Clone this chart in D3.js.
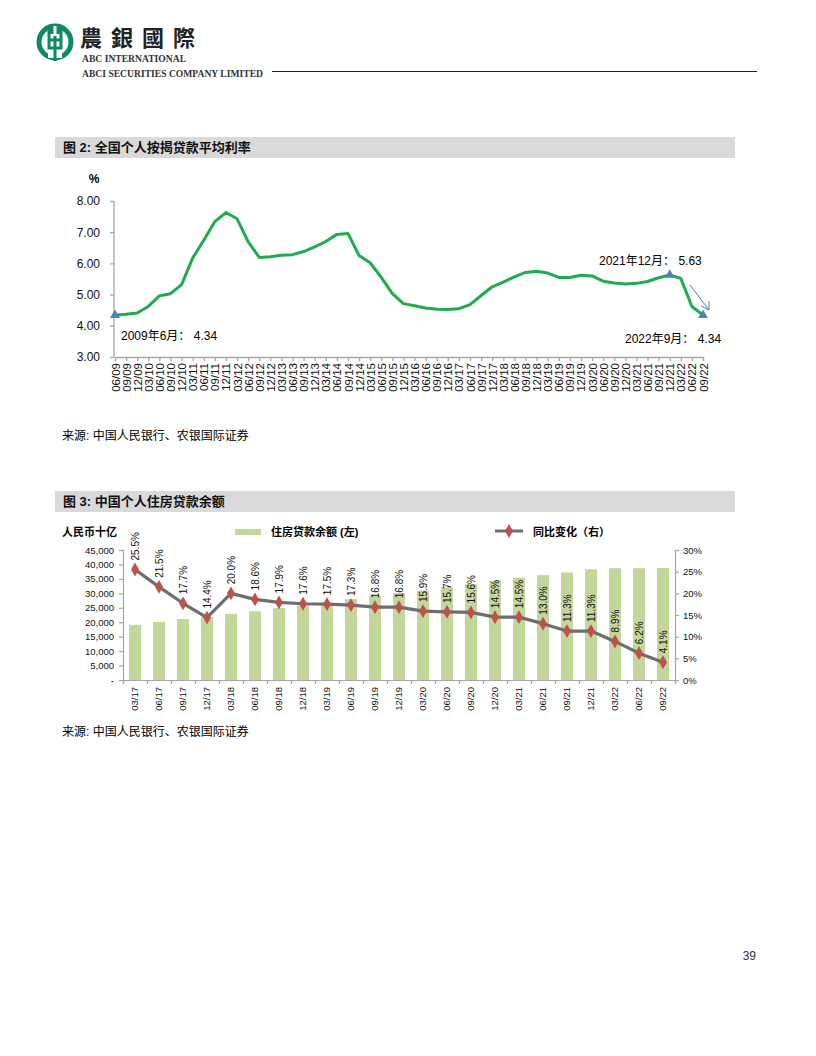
<!DOCTYPE html>
<html><head><meta charset="utf-8">
<script src="https://cdn.jsdelivr.net/npm/d3@7"></script>
<style>
body{margin:0;background:#fff;}
svg{display:block;}
text{font-family:"Liberation Sans",Arial,"Noto Sans CJK SC",sans-serif;}
.cjk{font-family:"Liberation Sans","Noto Sans CJK SC",sans-serif;}
</style></head><body>
<script>
// ---- Chart 1 data: average mortgage rate (%) ----
const rateCategories = ["06/09","09/09","12/09",
 "03/10","06/10","09/10","12/10","03/11","06/11","09/11","12/11",
 "03/12","06/12","09/12","12/12","03/13","06/13","09/13","12/13",
 "03/14","06/14","09/14","12/14","03/15","06/15","09/15","12/15",
 "03/16","06/16","09/16","12/16","03/17","06/17","09/17","12/17",
 "03/18","06/18","09/18","12/18","03/19","06/19","09/19","12/19",
 "03/20","06/20","09/20","12/20","03/21","06/21","09/21","12/21",
 "03/22","06/22","09/22"];
const rateValues = [4.34,4.37,4.41,4.62,4.96,5.03,5.32,6.17,6.74,7.34,7.63,7.43,
 6.70,6.19,6.21,6.26,6.28,6.38,6.53,6.70,6.93,6.96,6.25,6.02,5.55,5.03,4.71,
 4.64,4.57,4.53,4.52,4.55,4.68,4.97,5.25,5.40,5.57,5.71,5.75,5.69,5.55,5.55,
 5.62,5.60,5.43,5.37,5.34,5.36,5.42,5.54,5.63,5.52,4.62,4.34];
const rateTicks = [3,4,5,6,7,8];
const rateAnnotations = [
 {i:0, text:"2009年6月： 4.34"},
 {i:50, text:"2021年12月： 5.63"},
 {i:53, text:"2022年9月： 4.34"}];

// ---- Chart 2 data: housing loan balance ----
const loanCategories = ["03/17","06/17","09/17","12/17","03/18","06/18","09/18","12/18",
 "03/19","06/19","09/19","12/19","03/20","06/20","09/20","12/20",
 "03/21","06/21","09/21","12/21","03/22","06/22","09/22"];
const loanBalance = [19100,20100,21100,21900,22900,23800,24900,25800,26800,28000,29100,30100,
 30900,32100,33200,34400,35400,36300,37200,38300,38700,38700,38800];
const loanYoY = [25.5,21.5,17.7,14.4,20.0,18.6,17.9,17.6,17.5,17.3,16.8,16.8,
 15.9,15.7,15.6,14.5,14.5,13.0,11.3,11.3,8.9,6.2,4.1];
const leftTicks = [0,5000,10000,15000,20000,25000,30000,35000,40000,45000];
const rightTicks = [0,5,10,15,20,25,30];

const svg = d3.select("body").append("svg").attr("width",816).attr("height",1056);

// ---- Header ----
const logo = svg.append("g").attr("transform","translate(55,42)");
logo.append("circle").attr("r",16).attr("fill","none").attr("stroke","#0f8a5f").attr("stroke-width",5);
logo.append("rect").attr("x",-7).attr("y",-16).attr("width",14).attr("height",32).attr("fill","#fff");
logo.append("path").attr("d","M-6,-16 V6 H6 V-16 M-3,-16 V-8 M3,-16 V-8 M-6,-2 H6 M0,-6 V6 M0,6 V19")
  .attr("fill","none").attr("stroke","#0f8a5f").attr("stroke-width",3);
svg.append("text").attr("x",80).attr("y",46).attr("font-size",22).attr("font-weight","bold")
  .attr("letter-spacing",9).attr("fill","#222").style("font-family","'Noto Sans CJK TC','Noto Sans CJK SC'").text("農銀國際");
svg.append("text").attr("x",82).attr("y",62).attr("font-size",9.6).attr("font-weight","bold")
  .attr("fill","#333").style("font-family","'Liberation Serif',serif").text("ABC INTERNATIONAL");
svg.append("text").attr("x",82).attr("y",77).attr("font-size",9.6).attr("font-weight","bold")
  .attr("fill","#333").style("font-family","'Liberation Serif',serif").text("ABCI SECURITIES COMPANY LIMITED");
svg.append("line").attr("x1",272).attr("x2",757).attr("y1",71.5).attr("y2",71.5).attr("stroke","#222").attr("stroke-width",1);

function titleBar(y, txt){
  svg.append("rect").attr("x",55).attr("y",y).attr("width",680).attr("height",21).attr("fill","#d9d9d9");
  svg.append("text").attr("class","cjk").attr("x",63).attr("y",y+15).attr("font-size",13)
    .attr("font-weight","bold").attr("fill","#111").text(txt);
}
titleBar(137,"图 2: 全国个人按揭贷款平均利率");
titleBar(491,"图 3: 中国个人住房贷款余额");

// ---- Chart 1 ----
const x1 = d3.scalePoint().domain(rateCategories).range([115,703]);
const y1 = d3.scaleLinear().domain([3,8]).range([357,201]);
const axisColor = "#a6a6a6";

const gy1 = svg.append("g").attr("transform","translate(114,0)")
  .call(d3.axisLeft(y1).tickValues(rateTicks).tickFormat(d3.format(".2f")).tickSize(4).tickPadding(10));
const gx1 = svg.append("g").attr("transform","translate(0,357)")
  .call(d3.axisBottom(x1).tickSize(4).tickPadding(4));
[gy1,gx1].forEach(g=>{g.selectAll("path,line").attr("stroke",axisColor).attr("stroke-width",1.3);
  g.selectAll("text").attr("fill","#111").style("font-family","'Liberation Sans',Arial");});
gy1.selectAll("text").attr("font-size",12);
gy1.select(".domain").attr("d","M-0,357V201");
gx1.selectAll("text").attr("font-size",11.5).attr("transform","rotate(-90)")
  .attr("text-anchor","end").attr("x",-6).attr("y",0).attr("dy","0.35em");
svg.append("text").attr("x",94).attr("y",183).attr("font-size",12).attr("font-weight","bold").attr("text-anchor","middle").text("%");

const line1 = d3.line().x((d,i)=>x1(rateCategories[i])).y(d=>y1(d));
svg.append("path").datum(rateValues).attr("d",line1).attr("fill","none")
  .attr("stroke","#1fab4e").attr("stroke-width",3).attr("stroke-linejoin","round");

const tri = d3.symbol().type(d3.symbolTriangle).size(42);
rateAnnotations.forEach(a=>{
  svg.append("path").attr("d",tri).attr("fill","#4f81bd")
    .attr("transform",`translate(${x1(rateCategories[a.i])},${y1(rateValues[a.i])})`);
});
svg.append("text").attr("class","cjk").attr("x",121).attr("y",340).attr("font-size",12).text(rateAnnotations[0].text);
svg.append("text").attr("class","cjk").attr("x",599).attr("y",265).attr("font-size",12).text(rateAnnotations[1].text);
svg.append("text").attr("class","cjk").attr("x",625).attr("y",343).attr("font-size",12).text(rateAnnotations[2].text);
// arrow
svg.append("line").attr("x1",690).attr("y1",285).attr("x2",709).attr("y2",310).attr("stroke","#4f81bd").attr("stroke-width",1);
svg.append("path").attr("d","M701,306 L709,310 L709,301").attr("fill","none").attr("stroke","#4f81bd").attr("stroke-width",1);

svg.append("text").attr("class","cjk").attr("x",62).attr("y",440).attr("font-size",12).text("来源: 中国人民银行、农银国际证券");

// ---- Chart 2 ----
const x2 = d3.scaleBand().domain(loanCategories).range([123,675]).paddingInner(0.5).paddingOuter(0.25);
const y2L = d3.scaleLinear().domain([0,45000]).range([680,550]);
const y2R = d3.scaleLinear().domain([0,30]).range([680,550]);

svg.append("g").selectAll("rect").data(loanBalance).join("rect")
  .attr("x",(d,i)=>x2(loanCategories[i])).attr("width",x2.bandwidth())
  .attr("y",d=>y2L(d)).attr("height",d=>680-y2L(d)).attr("fill","#c3d69b");

const gL = svg.append("g").attr("transform","translate(123,0)")
  .call(d3.axisLeft(y2L).tickValues(leftTicks).tickFormat(d=>d===0?"-":d3.format(",")(d)).tickSize(4).tickPadding(5));
const gR = svg.append("g").attr("transform","translate(675,0)")
  .call(d3.axisRight(y2R).tickValues(rightTicks).tickFormat(d=>d+"%").tickSize(4).tickPadding(4));
const xTickAxis = d3.axisBottom(d3.scaleLinear().domain([0,23]).range([123,675])).ticks(23).tickSize(4).tickFormat("");
const gX2 = svg.append("g").attr("transform","translate(0,680)").call(xTickAxis);
const gX2l = svg.append("g").attr("transform","translate(0,680)").call(d3.axisBottom(x2).tickSize(0).tickPadding(6));
gX2l.select(".domain").remove();
[gL,gR,gX2].forEach(g=>{g.selectAll("path,line").attr("stroke",axisColor).attr("stroke-width",1.2);});
[gL,gR,gX2l].forEach(g=>g.selectAll("text").attr("fill","#111").attr("font-size",9.5).style("font-family","'Liberation Sans',Arial"));
gX2l.selectAll("text").attr("transform","rotate(-90)").attr("text-anchor","end").attr("x",-7).attr("y",0).attr("dy","0.35em");

const line2 = d3.line().x((d,i)=>x2(loanCategories[i])+x2.bandwidth()/2).y(d=>y2R(d));
svg.append("path").datum(loanYoY).attr("d",line2).attr("fill","none")
  .attr("stroke","#6e6e6e").attr("stroke-width",3.2).attr("stroke-linejoin","round");
const dia = d3.symbol().type(d3.symbolDiamond).size(55);
svg.append("g").selectAll("path").data(loanYoY).join("path").attr("d",dia).attr("fill","#c0504d")
  .attr("transform",(d,i)=>`translate(${x2(loanCategories[i])+x2.bandwidth()/2},${y2R(d)})`);
svg.append("g").selectAll("text").data(loanYoY).join("text")
  .attr("font-size",10).attr("fill","#111").style("font-family","'Liberation Sans',Arial")
  .attr("text-anchor","start").attr("dy","0.35em")
  .attr("transform",(d,i)=>`translate(${x2(loanCategories[i])+x2.bandwidth()/2},${y2R(d)-9}) rotate(-90)`)
  .text(d=>d.toFixed(1)+"%");

// legend + unit
svg.append("text").attr("class","cjk").attr("x",62).attr("y",536).attr("font-size",11).attr("font-weight","bold").text("人民币十亿");
svg.append("rect").attr("x",235).attr("y",529).attr("width",26).attr("height",6).attr("fill","#c3d69b");
svg.append("text").attr("class","cjk").attr("x",271).attr("y",536).attr("font-size",11).attr("font-weight","bold").text("住房贷款余额 (左)");
svg.append("line").attr("x1",495).attr("x2",523).attr("y1",531).attr("y2",531).attr("stroke","#6e6e6e").attr("stroke-width",3);
svg.append("path").attr("d",dia).attr("fill","#c0504d").attr("transform","translate(509,531)");
svg.append("text").attr("class","cjk").attr("x",533).attr("y",536).attr("font-size",11).attr("font-weight","bold").text("同比变化（右）");

svg.append("text").attr("class","cjk").attr("x",62).attr("y",736).attr("font-size",12).text("来源: 中国人民银行、农银国际证券");

svg.append("text").attr("x",756).attr("y",960).attr("font-size",12).attr("fill","#333").attr("text-anchor","end").text("39");
</script>
</body></html>
